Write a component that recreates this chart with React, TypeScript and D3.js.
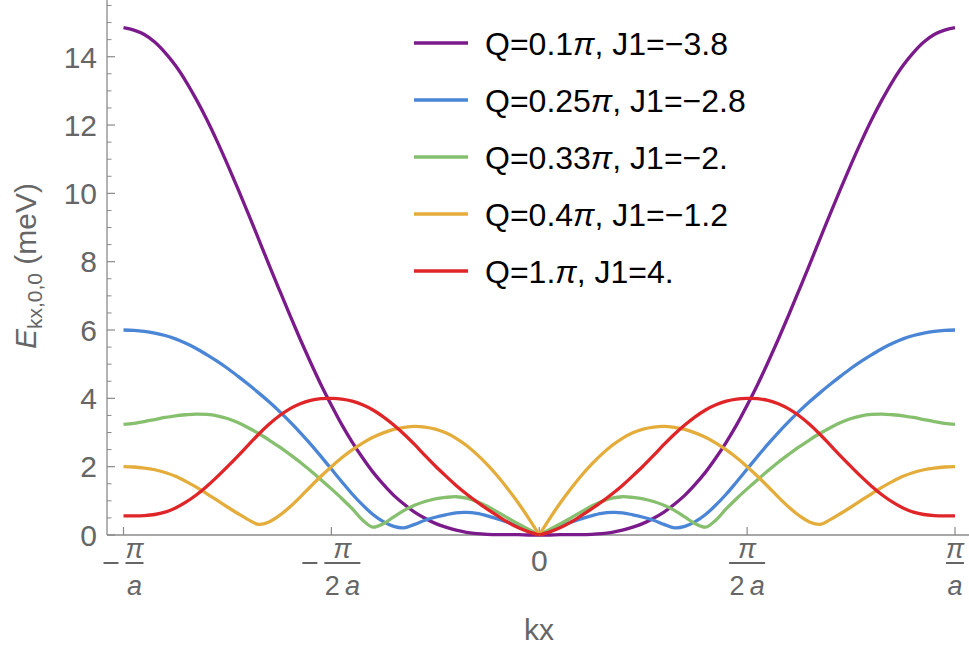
import React from "react";
import * as d3 from "d3";

// kx in units of pi/a
const kGrid = [
  -1, -0.975, -0.95, -0.925, -0.9, -0.875, -0.85, -0.825, -0.8, -0.775,
  -0.75, -0.725, -0.7, -0.675, -0.65, -0.625, -0.6, -0.575, -0.55, -0.525,
  -0.5, -0.475, -0.45, -0.425, -0.4, -0.375, -0.35, -0.325, -0.3, -0.275,
  -0.25, -0.225, -0.2, -0.175, -0.15, -0.125, -0.1, -0.075, -0.05, -0.025,
  0,
  0.025, 0.05, 0.075, 0.1, 0.125, 0.15, 0.175, 0.2, 0.225, 0.25,
  0.275, 0.3, 0.325, 0.35, 0.375, 0.4, 0.425, 0.45, 0.475, 0.5,
  0.525, 0.55, 0.575, 0.6, 0.625, 0.65, 0.675, 0.7, 0.725, 0.75,
  0.775, 0.8, 0.825, 0.85, 0.875, 0.9, 0.925, 0.95, 0.975, 1,
];

const purpleE = [
  14.85, 14.78, 14.65, 14.43, 14.12, 13.74, 13.28, 12.75, 12.17, 11.53,
  10.85, 10.14, 9.41, 8.66, 7.91, 7.17, 6.44, 5.73, 5.05, 4.4,
  3.8, 3.23, 2.72, 2.26, 1.84, 1.48, 1.16, 0.9, 0.67, 0.49,
  0.34, 0.23, 0.14, 0.08, 0.04, 0.02, 0.01, 0.01, 0.01, 0.0,
  0,
  0.0, 0.01, 0.01, 0.01, 0.02, 0.04, 0.08, 0.14, 0.23, 0.34,
  0.49, 0.67, 0.9, 1.16, 1.48, 1.84, 2.26, 2.72, 3.23, 3.8,
  4.4, 5.05, 5.73, 6.44, 7.17, 7.91, 8.66, 9.41, 10.14, 10.85,
  11.53, 12.17, 12.75, 13.28, 13.74, 14.12, 14.43, 14.65, 14.78, 14.85,
];

const blueE = [
  6.0, 5.99, 5.96, 5.91, 5.84, 5.74, 5.61, 5.46, 5.28, 5.09,
  4.88, 4.65, 4.41, 4.16, 3.9, 3.62, 3.32, 3.0, 2.66, 2.3,
  1.93, 1.56, 1.2, 0.88, 0.6, 0.39, 0.25, 0.21, 0.31, 0.43,
  0.52, 0.59, 0.65, 0.66, 0.63, 0.56, 0.47, 0.37, 0.25, 0.12,
  0,
  0.12, 0.25, 0.37, 0.47, 0.56, 0.63, 0.66, 0.65, 0.59, 0.52,
  0.43, 0.31, 0.21, 0.25, 0.39, 0.6, 0.88, 1.2, 1.56, 1.93,
  2.3, 2.66, 3.0, 3.32, 3.62, 3.9, 4.16, 4.41, 4.65, 4.88,
  5.09, 5.28, 5.46, 5.61, 5.74, 5.84, 5.91, 5.96, 5.99, 6.0,
];

const greenE = [
  3.24, 3.27, 3.32, 3.38, 3.44, 3.49, 3.52, 3.54, 3.53, 3.49,
  3.41, 3.29, 3.14, 2.97, 2.78, 2.58, 2.36, 2.13, 1.88, 1.62,
  1.35, 1.07, 0.77, 0.44, 0.23, 0.33, 0.53, 0.72, 0.87, 0.98,
  1.06, 1.1, 1.12, 1.08, 0.98, 0.84, 0.67, 0.49, 0.32, 0.16,
  0,
  0.16, 0.32, 0.49, 0.67, 0.84, 0.98, 1.08, 1.12, 1.1, 1.06,
  0.98, 0.87, 0.72, 0.53, 0.33, 0.23, 0.44, 0.77, 1.07, 1.35,
  1.62, 1.88, 2.13, 2.36, 2.58, 2.78, 2.97, 3.14, 3.29, 3.41,
  3.49, 3.53, 3.54, 3.52, 3.49, 3.44, 3.38, 3.32, 3.27, 3.24,
];

const orangeE = [
  2.0, 1.99, 1.96, 1.91, 1.83, 1.72, 1.57, 1.4, 1.21, 1.02,
  0.82, 0.63, 0.45, 0.31, 0.38, 0.57, 0.82, 1.11, 1.42, 1.72,
  2.0, 2.26, 2.49, 2.69, 2.86, 2.99, 3.09, 3.15, 3.18, 3.16,
  3.1, 2.99, 2.83, 2.62, 2.36, 2.06, 1.72, 1.34, 0.93, 0.48,
  0,
  0.48, 0.93, 1.34, 1.72, 2.06, 2.36, 2.62, 2.83, 2.99, 3.1,
  3.16, 3.18, 3.15, 3.09, 2.99, 2.86, 2.69, 2.49, 2.26, 2.0,
  1.72, 1.42, 1.11, 0.82, 0.57, 0.38, 0.31, 0.45, 0.63, 0.82,
  1.02, 1.21, 1.4, 1.57, 1.72, 1.83, 1.91, 1.96, 1.99, 2.0,
];

const redE = [
  0.56, 0.56, 0.57, 0.6, 0.67, 0.79, 0.96, 1.17, 1.42, 1.7,
  2.0, 2.31, 2.63, 2.95, 3.24, 3.49, 3.69, 3.84, 3.94, 3.99,
  4.0, 3.98, 3.92, 3.81, 3.66, 3.46, 3.22, 2.95, 2.65, 2.33,
  2.02, 1.73, 1.45, 1.2, 0.97, 0.76, 0.56, 0.37, 0.21, 0.09,
  0,
  0.09, 0.21, 0.37, 0.56, 0.76, 0.97, 1.2, 1.45, 1.73, 2.02,
  2.33, 2.65, 2.95, 3.22, 3.46, 3.66, 3.81, 3.92, 3.98, 4.0,
  3.99, 3.94, 3.84, 3.69, 3.49, 3.24, 2.95, 2.63, 2.31, 2.0,
  1.7, 1.42, 1.17, 0.96, 0.79, 0.67, 0.6, 0.57, 0.56, 0.56,
];

const seriesValues = [purpleE, blueE, greenE, orangeE, redE];
const seriesColors = ["#7b1a8b", "#4a85d6", "#86bf6e", "#e4ad3b", "#e02528"];
const legendQ = ["0.1", "0.25", "0.33", "0.4", "1."];
const legendJ1 = ["\u22123.8", "\u22122.8", "\u22122.", "\u22121.2", "4."];

const xTickValues = [-1, -0.5, 0, 0.5, 1];
const xTickSign = ["\u2212", "\u2212", "", "", ""];
const xTickDenTwo = [false, true, false, true, false];
const yMajorTicks = [0, 2, 4, 6, 8, 10, 12, 14];

const FONT = "'Liberation Sans', Arial, Helvetica, sans-serif";
const AXIS = "#8a8a8a";
const LABEL = "#666666";

export default function App() {
  const x = d3.scaleLinear().domain([-1, 1]).range([123.5, 955]);
  const y = d3.scaleLinear().domain([0, 15.66]).range([535, 0]);
  const line = d3
    .line<[number, number]>()
    .x((d) => x(d[0]))
    .y((d) => y(d[1]))
    .curve(d3.curveCatmullRom.alpha(0.5));

  const minorTicks = d3.range(0, 15.6, 0.5).filter((v) => v % 2 !== 0);

  return (
    <svg
      width={969}
      height={650}
      style={{ position: "absolute", left: 0, top: 0, background: "#fff" }}
      fontFamily={FONT}
    >
      {/* axes */}
      <line x1={107} x2={107} y1={0} y2={535} stroke={AXIS} strokeWidth={1.3} />
      <line x1={107} x2={969} y1={535} y2={535} stroke={AXIS} strokeWidth={1.3} />
      {yMajorTicks.map((v) => (
        <g key={"ym" + v}>
          <line x1={107} x2={115} y1={y(v)} y2={y(v)} stroke={AXIS} strokeWidth={1.2} />
          <text x={97} y={y(v)} dy="0.36em" textAnchor="end" fontSize={30} fill={LABEL}>
            {v}
          </text>
        </g>
      ))}
      {minorTicks.map((v) => (
        <line key={"yn" + v} x1={107} x2={111.5} y1={y(v)} y2={y(v)} stroke={AXIS} strokeWidth={1} />
      ))}
      {xTickValues.map((v, i) => {
        const cx = x(v);
        const two = xTickDenTwo[i];
        const barW = two ? 36 : 18;
        const hasSign = xTickSign[i] !== "";
        const groupW = barW + (hasSign ? 22 : 0);
        const left = cx - groupW / 2;
        const barL = left + (hasSign ? 22 : 0);
        const barC = barL + barW / 2;
        return (
          <g key={"xt" + i}>
            <line x1={cx} x2={cx} y1={535} y2={527} stroke={AXIS} strokeWidth={1.2} />
            {v === 0 ? (
              <text x={cx} y={571} textAnchor="middle" fontSize={30} fill={LABEL}>
                0
              </text>
            ) : (
              <g>
                {hasSign && (
                  <line x1={left} x2={left + 15} y1={563} y2={563} stroke={LABEL} strokeWidth={2} />
                )}
                <text x={barC} y={558} textAnchor="middle" fontSize={27} fontStyle="italic" fill={LABEL}>
                  π
                </text>
                <line x1={barL} x2={barL + barW} y1={563} y2={563} stroke={LABEL} strokeWidth={2} />
                <text x={barC} y={595} textAnchor="middle" fontSize={27} fill={LABEL}>
                  {two ? "2\u2009" : ""}
                  <tspan fontStyle="italic">a</tspan>
                </text>
              </g>
            )}
          </g>
        );
      })}

      {/* axis labels */}
      <text x={539} y={640} textAnchor="middle" fontSize={30} fill={LABEL}>
        kx
      </text>
      <text transform="translate(36,266) rotate(-90)" textAnchor="middle" fontSize={30} fill={LABEL}>
        <tspan fontStyle="italic">E</tspan>
        <tspan fontSize={21} dy={6}>kx,0,0</tspan>
        <tspan dy={-6}> (meV)</tspan>
      </text>

      {/* curves: drawn in two halves so the cusp at kx=0 stays sharp */}
      {seriesValues.map((vals, si) => {
        const pts: [number, number][] = kGrid.map((k, j) => [k, vals[j]]);
        const leftHalf = pts.filter((p) => p[0] <= 0);
        const rightHalf = pts.filter((p) => p[0] >= 0);
        return (
          <g key={"s" + si}>
            <path d={line(leftHalf) || ""} fill="none" stroke={seriesColors[si]} strokeWidth={3.3} strokeLinejoin="round" />
            <path d={line(rightHalf) || ""} fill="none" stroke={seriesColors[si]} strokeWidth={3.3} strokeLinejoin="round" />
          </g>
        );
      })}

      {/* legend */}
      {legendQ.map((q, i) => {
        const ly = 43 + 57 * i;
        return (
          <g key={"lg" + i}>
            <line x1={414} x2={468} y1={ly} y2={ly} stroke={seriesColors[i]} strokeWidth={3.3} />
            <text x={485} y={ly} dy="0.36em" fontSize={32} fill="#000">
              {"Q=" + q}
              <tspan fontStyle="italic">π</tspan>
              {", J1=" + legendJ1[i]}
            </text>
          </g>
        );
      })}
    </svg>
  );
}
